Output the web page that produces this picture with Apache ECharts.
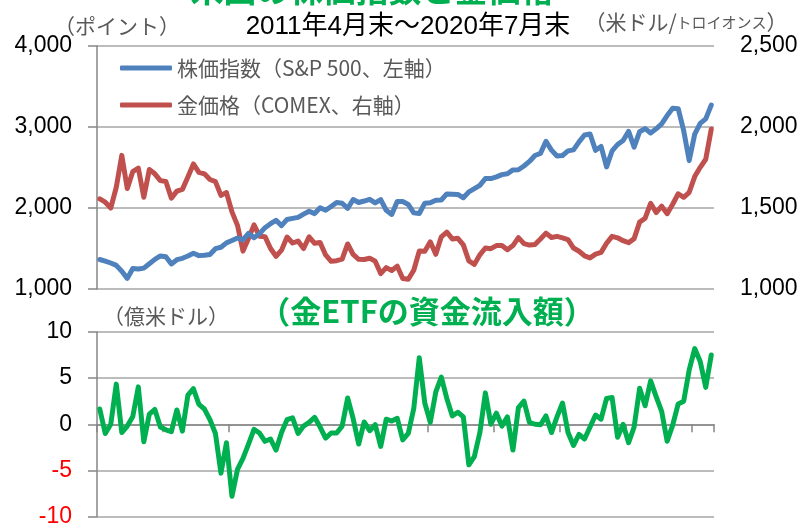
<!DOCTYPE html>
<html>
<head>
<meta charset="utf-8">
<script src="https://cdn.jsdelivr.net/npm/echarts@6/dist/echarts.min.js"></script>
<style>
html,body{margin:0;padding:0;background:#fff;}
#chart{width:801px;height:528px;}
</style>
</head>
<body>
<div id="chart"></div>
<script>
// Monthly categories: April 2011 .. July 2020
var categories = [];
(function(){
  var y = 2011, m = 4;
  while (y < 2020 || (y === 2020 && m <= 7)) {
    categories.push(y + '/' + (m < 10 ? '0' + m : m));
    m++; if (m > 12) { m = 1; y++; }
  }
})();

// S&P 500 (points, left axis)
var spx = [1364,1345,1321,1292,1219,1131,1253,1247,1258,
1312,1366,1408,1398,1310,1362,1379,1407,1441,1412,1416,1426,
1498,1515,1569,1598,1631,1606,1686,1633,1682,1757,1806,1848,
1783,1859,1872,1884,1924,1960,1931,2003,1972,2018,2068,2059,
1995,2105,2068,2086,2107,2063,2104,1972,1920,2079,2080,2044,
1940,1932,2060,2065,2097,2099,2174,2171,2168,2126,2199,2239,
2279,2364,2363,2384,2412,2423,2470,2472,2519,2575,2648,2674,
2824,2714,2641,2648,2705,2718,2816,2902,2914,2712,2760,2507,
2704,2784,2834,2946,2752,2942,2980,2926,2977,3038,3141,3231,
3226,2954,2585,2912,3044,3100,3271];

// Gold price COMEX (USD/troy oz, right axis)
var gold = [1556,1536,1500,1628,1825,1620,1725,1746,1566,
1738,1711,1669,1664,1561,1604,1615,1692,1772,1720,1711,1676,
1663,1578,1595,1476,1393,1234,1312,1396,1326,1323,1250,1202,
1240,1321,1284,1296,1250,1322,1282,1287,1210,1171,1175,1184,
1278,1213,1183,1182,1190,1172,1095,1132,1114,1141,1065,1060,
1116,1234,1233,1291,1214,1322,1351,1309,1313,1272,1173,1152,
1211,1253,1249,1268,1268,1242,1268,1317,1280,1271,1275,1309,
1345,1318,1325,1316,1305,1253,1233,1205,1192,1215,1226,1282,
1325,1316,1298,1286,1311,1413,1437,1529,1472,1511,1465,1523,
1588,1566,1597,1694,1751,1801,1986];

// Gold ETF net inflows (100 million USD)
var etfFlows = [1.65,-1.0,0.0,4.35,-0.9,-0.2,0.85,4.05,-1.9,1.1,
1.6,-0.3,-0.6,-0.8,1.55,-0.75,3.15,3.85,2.15,1.65,
0.5,-1.0,-5.3,-2.0,-7.8,-4.9,-3.7,-2.15,-0.55,-0.95,
-1.85,-1.6,-2.8,-0.9,0.5,0.7,-1.0,-0.2,0.2,0.75,
-0.3,-1.5,-0.95,-0.95,-0.2,2.85,0.6,-2.15,0.25,-0.7,
-0.05,-2.4,0.55,0.35,0.65,-1.7,-1.0,1.7,7.2,2.3,
0.2,3.5,5.1,2.8,0.9,1.3,0.8,-4.4,-3.5,-0.9,
3.4,0.0,1.2,-0.2,0.8,-2.8,1.8,2.5,0.2,0.0,
-0.05,0.9,-0.9,0.8,2.3,-0.9,-2.3,-1.1,-1.6,-0.3,
1.0,0.55,2.8,2.9,-1.4,0.0,-2.0,-0.3,3.9,2.0,
4.7,3.0,1.4,-1.85,-0.1,2.2,2.5,5.9,8.2,6.8,
4.0,7.5];

var seriesNames = ['株価指数（S&P 500、左軸）', '金価格（COMEX、右軸）', '金ETFの資金流入額'];
var titleText = '米国の株価指数と金価格';
var subtitleText = '2011年4月末～2020年7月末';
var etfTitleText = '（金ETFの資金流入額）';

var JP = '"Noto Sans CJK JP", sans-serif';
var NUM = '"Liberation Sans", Arial, sans-serif';
var axisColor = '#868686';
var gridColor = '#A6A6A6';

function fmt(v) { return Number(v).toLocaleString('en-US'); }

var chart = echarts.init(document.getElementById('chart'), null, {renderer: 'canvas'});
chart.setOption({
  animation: false,
  backgroundColor: '#fff',
  grid: [
    {left: 97, top: 46, width: 617, height: 243},
    {left: 97, top: 332, width: 617, height: 189}
  ],
  legend: {
    orient: 'vertical', left: 120, top: 57, padding: 0,
    itemWidth: 52, itemHeight: 5, itemGap: 15, icon: 'roundRect',
    data: [seriesNames[0], seriesNames[1]],
    textStyle: {fontSize: 21, fontFamily: JP, color: '#595959', lineHeight: 22}
  },
  xAxis: [
    {type: 'category', gridIndex: 0, data: categories, boundaryGap: true,
     axisLine: {show: false}, axisTick: {show: false}, axisLabel: {show: false}, splitLine: {show: false}},
    {type: 'category', gridIndex: 1, data: categories, boundaryGap: true,
     axisLine: {show: true, onZero: true, lineStyle: {color: axisColor, width: 1.5}},
     axisTick: {show: true, interval: 11, length: 8, lineStyle: {color: axisColor, width: 1.5}},
     axisLabel: {show: false}, splitLine: {show: false}}
  ],
  yAxis: [
    {type: 'value', gridIndex: 0, min: 1000, max: 4000, interval: 1000, position: 'left',
     axisLine: {show: true, lineStyle: {color: axisColor, width: 1.5}},
     axisTick: {show: true, length: 9, lineStyle: {color: axisColor, width: 1.5}},
     axisLabel: {margin: 25, fontSize: 23, fontFamily: NUM, color: '#000', formatter: fmt},
     splitLine: {show: true, lineStyle: {color: gridColor, width: 1.5}}},
    {type: 'value', gridIndex: 0, min: 1000, max: 2500, interval: 500, position: 'right',
     axisLine: {show: false}, axisTick: {show: false},
     axisLabel: {margin: 26, fontSize: 23, fontFamily: NUM, color: '#000', formatter: fmt},
     splitLine: {show: false}},
    {type: 'value', gridIndex: 1, min: -10, max: 10, interval: 5, position: 'left',
     axisLine: {show: true, lineStyle: {color: axisColor, width: 1.5}},
     axisTick: {show: true, length: 9, lineStyle: {color: axisColor, width: 1.5}},
     axisLabel: {margin: 25, fontSize: 23, fontFamily: NUM,
       color: function (v) { return Number(v) < 0 ? '#FF0000' : '#000000'; }},
     splitLine: {show: true, lineStyle: {color: gridColor, width: 1.5}}}
  ],
  series: [
    {name: seriesNames[0], type: 'line', xAxisIndex: 0, yAxisIndex: 0, data: spx,
     showSymbol: false, symbol: 'none', color: '#4F81BD',
     lineStyle: {color: '#4F81BD', width: 5, join: 'round', cap: 'round'}, z: 3},
    {name: seriesNames[1], type: 'line', xAxisIndex: 0, yAxisIndex: 1, data: gold,
     showSymbol: false, symbol: 'none', color: '#C0504D',
     lineStyle: {color: '#C0504D', width: 5, join: 'round', cap: 'round'}, z: 2},
    {name: seriesNames[2], type: 'line', xAxisIndex: 1, yAxisIndex: 2, data: etfFlows,
     showSymbol: false, symbol: 'none', color: '#00B050',
     lineStyle: {color: '#00B050', width: 5, join: 'round', cap: 'round'}, z: 3}
  ],
  graphic: [
    {type: 'text', x: 372, y: -11, z: 10, style: {text: titleText, align: 'center', verticalAlign: 'middle',
      fontSize: 33, fontWeight: 'bold', fontFamily: JP, fill: '#00B050'}},
    {type: 'text', x: 408, y: 27, z: 10, style: {text: subtitleText, align: 'center', verticalAlign: 'middle',
      fontSize: 26, fontFamily: NUM + ',' + JP, fill: '#000'}},
    {type: 'text', x: 117, y: 26, z: 10, style: {text: '（ポイント）', align: 'center', verticalAlign: 'middle',
      fontSize: 21, fontFamily: JP, fill: '#595959'}},
    {type: 'text', x: 686, y: 22, z: 10, style: {text: '{a|（米ドル/}{b|トロイオンス}{a|）}', align: 'center', verticalAlign: 'middle',
      rich: {a: {fontSize: 21, fontFamily: JP, fill: '#595959', color: '#595959'},
             b: {fontSize: 15, fontFamily: JP, fill: '#595959', color: '#595959'}}}},
    {type: 'text', x: 166, y: 316, z: 10, style: {text: '（億米ドル）', align: 'center', verticalAlign: 'middle',
      fontSize: 21, fontFamily: JP, fill: '#595959'}},
    {type: 'text', x: 427, y: 311, z: 10, style: {text: etfTitleText, align: 'center', verticalAlign: 'middle',
      fontSize: 31, fontWeight: 'bold', fontFamily: JP, fill: '#00B050'}}
  ]
});
</script>
</body>
</html>
